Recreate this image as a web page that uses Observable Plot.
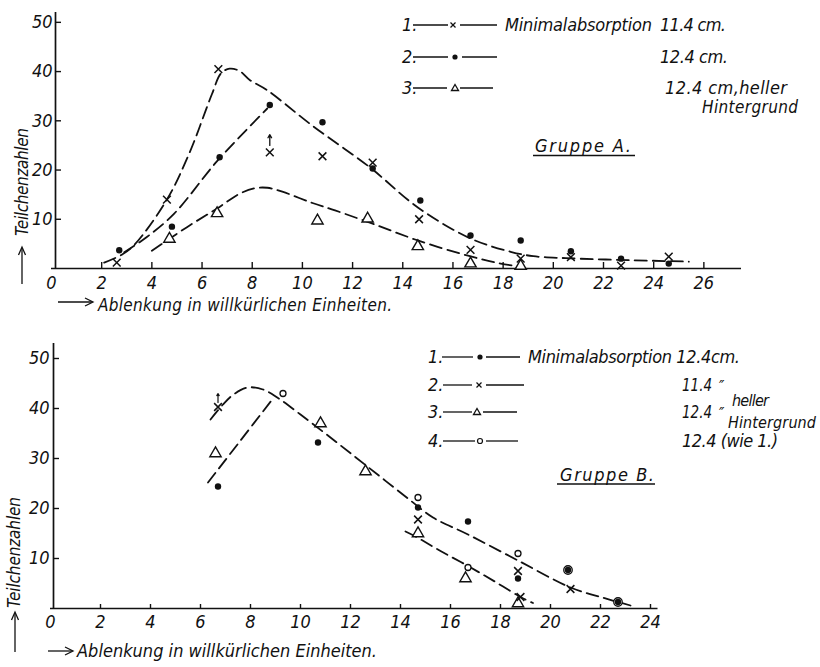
<!DOCTYPE html>
<html>
<head>
<meta charset="utf-8">
<script src="https://cdn.jsdelivr.net/npm/d3@7"></script>
<script src="https://cdn.jsdelivr.net/npm/@observablehq/plot@0.6"></script>
<style>
  html, body { margin: 0; padding: 0; background: #fff; }
  #wrap { position: relative; width: 820px; height: 667px; background: #fff; overflow: hidden; }
  #pA { position: absolute; left: 0; top: 0; }
  #pB { position: absolute; left: 0; top: 320px; }
  #ov { position: absolute; left: 0; top: 0; pointer-events: none; }
  #ov text { font-family: "Liberation Sans Narrow", "DejaVu Sans Condensed", "Liberation Sans", sans-serif; font-style: italic; font-size: 18px; fill: #111; }
  #ov line, #ov path { stroke: #111; fill: none; stroke-width: 1.3; }
</style>
</head>
<body>
<div id="wrap">
  <div id="pA"></div>
  <div id="pB"></div>
  <svg id="ov" width="820" height="667" viewBox="0 0 820 667">
    <!-- Gruppe A legend -->
    <text x="402" y="31">1.</text>
    <line x1="413" y1="25" x2="448" y2="25"/>
    <line x1="450.5" y1="22.5" x2="455.5" y2="27.5"/><line x1="455.5" y1="22.5" x2="450.5" y2="27.5"/>
    <line x1="460" y1="25" x2="497" y2="25"/>
    <text x="505" y="31" textLength="147" lengthAdjust="spacing">Minimalabsorption</text>
    <text x="660" y="31" textLength="66" lengthAdjust="spacing">11.4 cm.</text>
    <text x="402" y="63">2.</text>
    <line x1="413" y1="57" x2="448" y2="57"/>
    <circle cx="455" cy="57" r="2.6" fill="#111"/>
    <line x1="462" y1="57" x2="497" y2="57"/>
    <text x="660" y="63" textLength="68" lengthAdjust="spacing">12.4 cm.</text>
    <text x="402" y="94">3.</text>
    <line x1="413" y1="88" x2="447" y2="88"/>
    <path d="M451.5,90.5 L455,84.5 L458.5,90.5 Z"/>
    <line x1="460" y1="88" x2="493" y2="88"/>
    <text x="665" y="94" textLength="122" lengthAdjust="spacing">12.4  cm,heller</text>
    <text x="702" y="113" textLength="96" lengthAdjust="spacing" style="font-size:17px">Hintergrund</text>
    <text x="535" y="152" textLength="96" lengthAdjust="spacing">Gruppe A.</text>
    <line x1="533" y1="155.5" x2="635" y2="155.5"/>
    <!-- Gruppe A axis titles -->
    <line x1="58" y1="302" x2="92" y2="302"/>
    <path d="M85,298 L93,302 L85,306"/>
    <text x="98" y="311" textLength="294" lengthAdjust="spacing" style="font-size:17px">Ablenkung in willkürlichen Einheiten.</text>
    <text transform="translate(28,236) rotate(-90)" x="0" y="0" textLength="108" lengthAdjust="spacing" style="font-size:17px">Teilchenzahlen</text>
    <line x1="22" y1="284" x2="22" y2="248"/>
    <path d="M18.5,255 L22,247 L25.5,255"/>

    <!-- Gruppe B legend -->
    <text x="428" y="363">1.</text>
    <line x1="442" y1="357" x2="473" y2="357"/>
    <circle cx="480" cy="357" r="2.6" fill="#111"/>
    <line x1="486" y1="357" x2="520" y2="357"/>
    <text x="528" y="363" textLength="212" lengthAdjust="spacing">Minimalabsorption 12.4cm.</text>
    <text x="428" y="391">2.</text>
    <line x1="443" y1="385" x2="472" y2="385"/>
    <line x1="476.5" y1="382.5" x2="481.5" y2="387.5"/><line x1="481.5" y1="382.5" x2="476.5" y2="387.5"/>
    <line x1="486" y1="385" x2="524" y2="385"/>
    <text x="682" y="391" textLength="30" lengthAdjust="spacingAndGlyphs">11.4</text>
    <text x="719" y="392" style="font-size:16px">″</text>
    <text x="428" y="418">3.</text>
    <line x1="443" y1="412" x2="472" y2="412"/>
    <path d="M473.5,414.5 L477,408.5 L480.5,414.5 Z"/>
    <line x1="483" y1="412" x2="517" y2="412"/>
    <text x="682" y="418" textLength="30" lengthAdjust="spacingAndGlyphs">12.4</text>
    <text x="719" y="419" style="font-size:16px">″</text>
    <text x="732" y="406" textLength="37" lengthAdjust="spacing" style="font-size:16px">heller</text>
    <text x="728" y="428" textLength="88" lengthAdjust="spacing" style="font-size:16px">Hintergrund</text>
    <text x="428" y="447">4.</text>
    <line x1="443" y1="441" x2="475" y2="441"/>
    <circle cx="480" cy="441" r="2.5" fill="none" stroke="#111" stroke-width="1.2"/>
    <line x1="486" y1="441" x2="518" y2="441"/>
    <text x="682" y="447" textLength="96" lengthAdjust="spacing">12.4  (wie 1.)</text>
    <text x="560" y="481" textLength="94" lengthAdjust="spacing">Gruppe B.</text>
    <line x1="557" y1="484" x2="655" y2="484"/>
    <!-- Gruppe B axis titles -->
    <line x1="48" y1="651" x2="72" y2="651"/>
    <path d="M65,647 L73,651 L65,655"/>
    <text x="77" y="657" textLength="300" lengthAdjust="spacing">Ablenkung in willkürlichen Einheiten.</text>
    <text transform="translate(20,608) rotate(-90)" x="0" y="0" textLength="111" lengthAdjust="spacing" style="font-size:17px">Teilchenzahlen</text>
    <line x1="15" y1="652" x2="15" y2="613"/>
    <path d="M11.5,620 L15,612 L18.5,620"/>
  </svg>
</div>
<script>
// ---------------- Gruppe A ----------------
const A_xTickLabels = [0, 2, 4, 6, 8, 10, 12, 14, 16, 18, 20, 22, 24, 26];
const A_xTickMarks = [2, 4, 6, 8, 10, 12, 14, 16, 18, 20, 22, 24, 26];
const A_yTicks = [10, 20, 30, 40, 50];

// 1. x  Minimalabsorption 11.4 cm
const A_crossX = [2.6, 4.6, 6.65, 8.7, 10.8, 12.8, 14.65, 16.7, 18.7, 20.7, 22.7, 24.6];
const A_crossY = [1.2, 14, 40.5, 23.6, 22.8, 21.5, 10, 3.8, 2, 2.3, 0.6, 2.4];
// 2. •  12.4 cm
const A_dotX = [2.7, 4.8, 6.7, 8.7, 10.8, 12.8, 14.7, 16.7, 18.7, 20.7, 22.7, 24.6];
const A_dotY = [3.7, 8.5, 22.6, 33.2, 29.7, 20.3, 13.8, 6.7, 5.7, 3.5, 2, 1];
// 3. triangle  12.4 cm heller Hintergrund
const A_triX = [4.7, 6.6, 10.6, 12.6, 14.6, 16.7, 18.7];
const A_triY = [6, 11.2, 9.7, 10.1, 4.5, 1, 0.5];

// dashed curves
const A_curve1X = [2.1, 2.8, 3.3, 4.6, 5.5, 6.4, 6.75, 7.1, 7.5, 7.9, 8.6, 10.4, 12.7, 14.6, 16.7, 18.3, 19.2, 20.5, 23.0, 25.4];
const A_curve1Y = [1.2, 2.8, 4.8, 14, 23.5, 35.5, 39.6, 40.6, 40.1, 38.3, 36.2, 29, 20.5, 12.4, 6.1, 3.4, 2.5, 2.1, 1.7, 1.4];
const A_curve2X = [2.9, 3.8, 4.9, 6.6, 8.6];
const A_curve2Y = [3.3, 6.4, 11.2, 21.8, 32.5];
const A_curve3X = [4.0, 5.4, 6.6, 7.5, 8.1, 8.6, 9.2, 10.4, 11.3, 12.8, 14.6, 16.6, 17.9, 18.8];
const A_curve3Y = [3.6, 8.4, 12.2, 15.2, 16.3, 16.4, 15.6, 13.3, 11.8, 9.1, 5.7, 2.6, 1.0, 0.3];
// small up-arrow over the x at 8.7
const A_arrowX = [8.7];
const A_arrowY1 = [25.0];
const A_arrowY2 = [27.2];

// ---------------- Gruppe B ----------------
const B_xTickLabels = [0, 2, 4, 6, 8, 10, 12, 14, 16, 18, 20, 22, 24];
const B_xTickMarks = [2, 4, 6, 8, 10, 12, 14, 16, 18, 20, 22, 24];
const B_yTicks = [10, 20, 30, 40, 50];

// 1. •  Minimalabsorption 12.4 cm
const B_dotX = [6.7, 10.7, 14.7, 16.7, 18.7, 20.7, 22.7];
const B_dotY = [24.4, 33.2, 20.2, 17.4, 6, 7.7, 1.3];
// 2. x  11.4
const B_crossX = [6.7, 14.7, 18.7, 18.8, 20.8];
const B_crossY = [40.3, 17.8, 7.5, 2.3, 3.9];
// 3. triangle  12.4 heller Hintergrund
const B_triX = [6.6, 10.8, 12.6, 14.7, 16.6, 18.7];
const B_triY = [31, 37, 27.4, 15, 6, 1];
// 4. o  12.4 (wie 1.)
const B_circX = [9.3, 14.7, 16.7, 18.7, 20.7, 22.7];
const B_circY = [43, 22.2, 8.2, 11, 7.7, 1.3];

const B_curve1X = [6.4, 6.9, 7.35, 7.9, 8.5, 9.1, 10.0, 11.3, 12.7, 14.4, 15.3, 16.7, 18.7, 20.8, 22.0, 23.2];
const B_curve1Y = [37.8, 40.8, 42.9, 44.2, 43.8, 42.1, 38.8, 33.8, 28.3, 21.6, 18.2, 14.8, 9.6, 4.2, 2.3, 0.6];
const B_curve2X = [6.3, 7.6, 8.9];
const B_curve2Y = [25.2, 33.6, 42.0];
const B_curve3X = [14.2, 14.6, 15.6, 16.7, 17.8, 18.8, 19.3];
const B_curve3Y = [15.4, 14.4, 11.5, 8.5, 5.3, 2.3, 1.1];
const B_arrowX = [6.7];
const B_arrowY1 = [41.2];
const B_arrowY2 = [43.0];

// ---------------- helpers ----------------
const ink = "#111";
const fontStack = '"Liberation Sans Narrow", "DejaVu Sans Condensed", "Liberation Sans", sans-serif';
const pts = (xs, ys) => xs.map((x, i) => ({x, y: ys[i]}));
const arrows = (xs, y1s, y2s) => xs.map((x, i) => ({x, y1: y1s[i], y2: y2s[i]}));
const dash = {x: "x", y: "y", curve: "catmull-rom", stroke: ink, strokeWidth: 1.8, strokeDasharray: "12,6"};

function panel(cfg) {
  const fw = cfg.width - cfg.marginLeft - cfg.marginRight;
  const fh = cfg.height - cfg.marginTop - cfg.marginBottom;
  return Plot.plot({
    width: cfg.width, height: cfg.height,
    marginLeft: cfg.marginLeft, marginRight: cfg.marginRight,
    marginTop: cfg.marginTop, marginBottom: cfg.marginBottom,
    x: {domain: cfg.xDomain, label: null},
    y: {domain: cfg.yDomain, label: null},
    style: {fontFamily: fontStack, fontSize: "18px", fontStyle: "italic", color: ink, background: "white"},
    marks: [
      Plot.ruleY([0], {stroke: ink, strokeWidth: 1.7}),
      Plot.ruleX([0], {stroke: ink, strokeWidth: 1.7, dx: cfg.yAxisDx}),
      Plot.tickX(cfg.xTickMarks, {x: d => d, insetTop: fh - cfg.xTickLen, stroke: ink, strokeWidth: 1.4}),
      Plot.tickY(cfg.yTicks, {y: d => d, insetRight: fw - 6, dx: cfg.yAxisDx, stroke: ink, strokeWidth: 1.4}),
      Plot.axisX({ticks: cfg.xTickLabels, tickSize: 0, tickPadding: cfg.xPad, label: null, tickFormat: d => String(d)}),
      Plot.axisY({ticks: cfg.yTicks, tickSize: 0, tickPadding: 0, dx: cfg.yLabelDx, label: null, tickFormat: d => String(d)}),
      ...cfg.marks
    ]
  });
}

const plotA = panel({
  width: 820, height: 320, marginLeft: 51, marginRight: 79, marginTop: 12, marginBottom: 52,
  xDomain: [0, 27.5], yDomain: [0, 52], yAxisDx: 4, yLabelDx: 1, xTickLen: 6, xPad: 8,
  xTickMarks: A_xTickMarks, xTickLabels: A_xTickLabels, yTicks: A_yTicks,
  marks: [
    Plot.line(pts(A_curve1X, A_curve1Y), dash),
    Plot.line(pts(A_curve2X, A_curve2Y), dash),
    Plot.line(pts(A_curve3X, A_curve3Y), dash),
    Plot.arrow(arrows(A_arrowX, A_arrowY1, A_arrowY2), {x1: "x", x2: "x", y1: "y1", y2: "y2", stroke: ink, strokeWidth: 1.3, headLength: 5}),
    Plot.dot(pts(A_triX, A_triY), {x: "x", y: "y", symbol: "triangle", r: 4.2, stroke: ink, strokeWidth: 1.4, fill: "white"}),
    Plot.dot(pts(A_crossX, A_crossY), {x: "x", y: "y", symbol: "times", r: 3.6, stroke: ink, strokeWidth: 1.5}),
    Plot.dot(pts(A_dotX, A_dotY), {x: "x", y: "y", r: 3.2, fill: ink, stroke: "none"})
  ]
});

const coincident = (x, y) => B_dotX.some((dx, i) => dx === x && B_dotY[i] === y);
const plotB = panel({
  width: 820, height: 347, marginLeft: 50, marginRight: 162.5, marginTop: 23, marginBottom: 59,
  xDomain: [0, 24.3], yDomain: [0, 53], yAxisDx: 3, yLabelDx: -1, xTickLen: 4, xPad: 7,
  xTickMarks: B_xTickMarks, xTickLabels: B_xTickLabels, yTicks: B_yTicks,
  marks: [
    Plot.line(pts(B_curve1X, B_curve1Y), dash),
    Plot.line(pts(B_curve2X, B_curve2Y), dash),
    Plot.line(pts(B_curve3X, B_curve3Y), dash),
    Plot.arrow(arrows(B_arrowX, B_arrowY1, B_arrowY2), {x1: "x", x2: "x", y1: "y1", y2: "y2", stroke: ink, strokeWidth: 1.2, headLength: 3}),
    Plot.dot(pts(B_triX, B_triY), {x: "x", y: "y", symbol: "triangle", r: 4.2, stroke: ink, strokeWidth: 1.4, fill: "white"}),
    Plot.dot(pts(B_circX, B_circY), {x: "x", y: "y", r: d => coincident(d.x, d.y) ? 5.2 : 2.6, stroke: ink, strokeWidth: 1.3, fill: "white"}),
    Plot.dot(pts(B_crossX, B_crossY), {x: "x", y: "y", symbol: "times", r: 3.6, stroke: ink, strokeWidth: 1.5}),
    Plot.dot(pts(B_dotX, B_dotY), {x: "x", y: "y", r: 3.2, fill: ink, stroke: "none"})
  ]
});

document.getElementById("pA").appendChild(plotA);
document.getElementById("pB").appendChild(plotB);
</script>
</body>
</html>
